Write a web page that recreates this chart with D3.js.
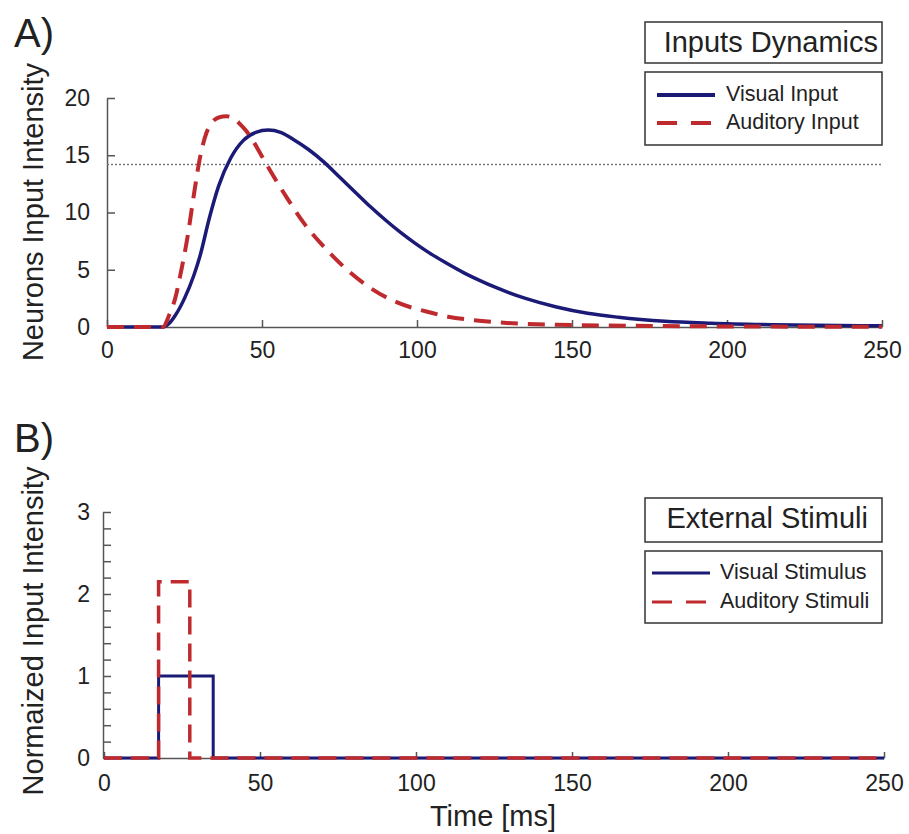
<!DOCTYPE html>
<html lang="en">
<head>
<meta charset="utf-8">
<script src="https://d3js.org/d3.v7.min.js"></script>
<style>
  body { margin: 0; background: #fff; }
  text { font-family: "Liberation Sans", Arial, sans-serif; fill: #222; }
</style>
</head>
<body>
<script type="text/javascript">

// panel A - neuron input dynamics (ms, intensity)
var visualT   = [0, 18, 20, 22, 25, 28, 30, 33, 36, 40, 44, 48, 52, 56, 60, 65, 70, 75, 80, 85, 90, 95, 100, 105, 110, 115, 120, 125, 135, 145, 155, 165, 180, 195, 215, 250];
var visualIn  = [0, 0, 0.3, 1.0, 2.5, 4.5, 6.2, 9.5, 12.3, 14.8, 16.3, 17.0, 17.2, 17.0, 16.4, 15.5, 14.4, 13.1, 11.8, 10.5, 9.3, 8.2, 7.2, 6.3, 5.5, 4.75, 4.1, 3.5, 2.5, 1.75, 1.2, 0.85, 0.5, 0.33, 0.2, 0.1];
var audT      = [0, 18, 20, 22, 24, 26, 28, 30, 32, 34, 36, 38.5, 41, 43, 45, 47, 50, 53, 58, 64, 70, 77, 85, 94, 103, 110, 118, 129, 145, 170, 200, 250];
var audIn     = [0, 0, 1.0, 2.5, 5, 7.9, 11.5, 14.8, 16.9, 17.9, 18.3, 18.4, 18.2, 17.7, 17.1, 16.3, 14.9, 13.5, 11.3, 8.9, 7.0, 5.1, 3.4, 2.1, 1.35, 0.9, 0.6, 0.35, 0.2, 0.1, 0.05, 0.02];
var threshold = 14.2;

// panel B - external stimuli (step pulses)
var visStimT  = [0, 17.5, 17.5, 35, 35, 250];
var visStim   = [0, 0, 1, 1, 0, 0];
var audStimT  = [0, 17.5, 17.5, 27.5, 27.5, 250];
var audStim   = [0, 0, 2.15, 2.15, 0, 0];

var xTicks  = [0, 50, 100, 150, 200, 250];
var yTicksA = [0, 5, 10, 15, 20];
var yTicksB = d3.range(0, 3.001, 0.2);

var blue = "#1b1a76", red = "#bf2a2e", axisCol = "#555";

var svg = d3.select("body")
  .append("svg")
  .attr("width", 909)
  .attr("height", 834);

function zip(t, v) { return t.map(function (d, i) { return {t: d, v: v[i]}; }); }

function styleAxis(g) {
  g.selectAll("path, line").attr("stroke", axisCol).attr("stroke-width", 1.5);
  g.selectAll("text").attr("font-size", 23).attr("fill", "#222")
    .attr("font-family", "'Liberation Sans', Arial, sans-serif");
}

// ---------- panel A ----------
var xA = d3.scaleLinear().domain([0, 250]).range([107, 882]);
var yA = d3.scaleLinear().domain([0, 20]).range([327, 98]);

svg.append("g")
  .attr("transform", "translate(0,327)")
  .call(d3.axisBottom(xA).tickValues(xTicks).tickSizeInner(-7).tickSizeOuter(0).tickPadding(15))
  .call(styleAxis);

svg.append("g")
  .attr("transform", "translate(107,0)")
  .call(d3.axisLeft(yA).tickValues(yTicksA).tickSizeInner(-8).tickSizeOuter(0).tickPadding(17))
  .call(styleAxis);

svg.append("line")
  .attr("x1", xA(0)).attr("x2", xA(250))
  .attr("y1", yA(threshold)).attr("y2", yA(threshold))
  .attr("stroke", "#777").attr("stroke-width", 1.5).attr("stroke-dasharray", "2,2");

var lineA = d3.line().x(function (d) { return xA(d.t); }).y(function (d) { return yA(d.v); })
  .curve(d3.curveMonotoneX);

svg.append("path").datum(zip(visualT, visualIn))
  .attr("d", lineA).attr("fill", "none").attr("stroke", blue).attr("stroke-width", 3.5);
svg.append("path").datum(zip(audT, audIn))
  .attr("d", lineA).attr("fill", "none").attr("stroke", red).attr("stroke-width", 4)
  .attr("stroke-dasharray", "17,10");

svg.append("text").attr("x", 14).attr("y", 47).attr("font-size", 40).text("A)");
svg.append("text")
  .attr("transform", "translate(43,212) rotate(-90)")
  .attr("text-anchor", "middle").attr("font-size", 29)
  .text("Neurons Input Intensity");

// ---------- panel B ----------
var xB = d3.scaleLinear().domain([0, 250]).range([104, 884]);
var yB = d3.scaleLinear().domain([0, 3]).range([758, 512]);

svg.append("g")
  .attr("transform", "translate(0,758)")
  .call(d3.axisBottom(xB).tickValues(xTicks).tickSizeInner(-6).tickSizeOuter(0).tickPadding(17))
  .call(styleAxis);

svg.append("g")
  .attr("transform", "translate(103,0)")
  .call(d3.axisLeft(yB).tickValues(yTicksB).tickSizeInner(-8).tickSizeOuter(0).tickPadding(13)
    .tickFormat(function (d) { return Math.abs(d - Math.round(d)) < 1e-6 ? d3.format("d")(Math.round(d)) : ""; }))
  .call(styleAxis);

var lineB = d3.line().x(function (d) { return xB(d.t); }).y(function (d) { return yB(d.v); });

svg.append("path").datum(zip(visStimT, visStim))
  .attr("d", lineB).attr("fill", "none").attr("stroke", blue).attr("stroke-width", 3);
svg.append("path").datum(zip(audStimT, audStim))
  .attr("d", lineB).attr("fill", "none").attr("stroke", red).attr("stroke-width", 3.5)
  .attr("stroke-dasharray", "18,9");

svg.append("text").attr("x", 14).attr("y", 452).attr("font-size", 40).text("B)");
svg.append("text")
  .attr("transform", "translate(43,631) rotate(-90)")
  .attr("text-anchor", "middle").attr("font-size", 29)
  .text("Normaized Input Intensity");
svg.append("text")
  .attr("x", 493).attr("y", 826)
  .attr("text-anchor", "middle").attr("font-size", 29)
  .text("Time [ms]");

// ---------- legends ----------
function legend(title, top, entries, opts) {
  var g = svg.append("g");
  g.append("rect").attr("x", 645).attr("y", top).attr("width", 237).attr("height", opts.titleH)
    .attr("fill", "#fff").attr("stroke", "#333").attr("stroke-width", 1.5);
  g.append("text").attr("x", opts.titleX).attr("y", top + opts.titleBase)
    .attr("text-anchor", "end").attr("font-size", 29).text(title);
  var top2 = top + opts.gap;
  g.append("rect").attr("x", 645).attr("y", top2).attr("width", 237).attr("height", opts.boxH)
    .attr("fill", "#fff").attr("stroke", "#333").attr("stroke-width", 1.5);
  entries.forEach(function (e, i) {
    var ly = top2 + opts.first + i * opts.step;
    g.append("line").attr("x1", opts.lx0).attr("x2", opts.lx1).attr("y1", ly).attr("y2", ly)
      .attr("stroke", e.color).attr("stroke-width", e.width)
      .attr("stroke-dasharray", e.dash || null);
    g.append("text").attr("x", opts.tx).attr("y", ly + 6).attr("font-size", 21.5).text(e.label);
  });
}

legend("Inputs Dynamics", 22, [
  {label: "Visual Input", color: blue, width: 4},
  {label: "Auditory Input", color: red, width: 4, dash: "20,14"}
], {titleH: 41, titleBase: 30, titleX: 878, gap: 50, boxH: 73, first: 23, step: 28, lx0: 657, lx1: 715, tx: 726});

legend("External Stimuli", 498, [
  {label: "Visual Stimulus", color: blue, width: 3},
  {label: "Auditory Stimuli", color: red, width: 3, dash: "20,14"}
], {titleH: 44, titleBase: 30, titleX: 868, gap: 53, boxH: 72, first: 22, step: 29, lx0: 652, lx1: 710, tx: 720});

</script>
</body>
</html>
